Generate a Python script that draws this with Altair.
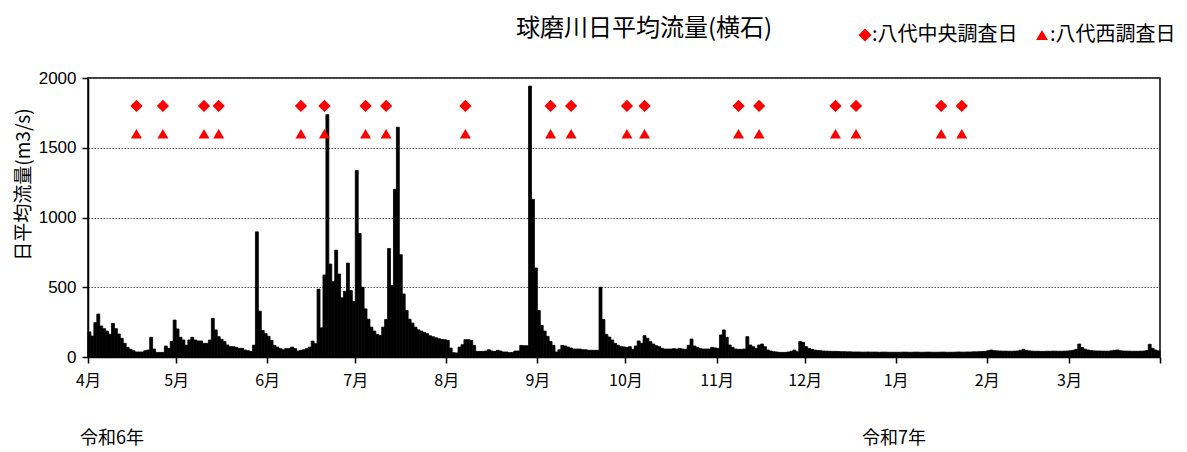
import altair as alt
import pandas as pd

# Daily mean discharge (m3/s), Yokoishi, R6.4.1 - R7.3.31
apr = [180, 150, 246, 308, 222, 203, 186, 163, 241, 203, 165, 134, 98, 69, 55,
       45, 36, 36, 36, 45, 50, 141, 57, 33, 33, 33, 79, 62, 112, 265]
may = [201, 141, 122, 84, 122, 141, 122, 115, 115, 98, 98, 122, 277, 194, 146,
       127, 110, 86, 74, 74, 69, 62, 62, 50, 45, 40, 85, 897, 328, 190, 167]
jun = [148, 119, 83, 71, 60, 52, 60, 60, 71, 60, 43, 48, 52, 60, 71,
       114, 95, 486, 209, 588, 1737, 666, 540, 766, 595, 424, 471, 673, 476, 397]
jul = [1337, 885, 500, 345, 271, 214, 186, 162, 155, 214, 269, 778, 512, 1202, 1647,
       733, 452, 333, 271, 243, 214, 195, 186, 176, 167, 152, 145, 138, 131, 126, 124]
aug = [119, 64, 31, 29, 71, 88, 124, 124, 119, 83, 40, 40, 40, 43, 52,
       43, 40, 48, 43, 36, 36, 31, 33, 43, 43, 83, 81, 81, 1942, 1130, 638]
sep = [333, 226, 186, 148, 112, 83, 36, 52, 83, 79, 71, 64, 57, 57, 57,
       52, 52, 48, 48, 48, 48, 500, 269, 162, 143, 122, 98, 84, 74, 72]
oct_ = [69, 74, 55, 79, 115, 98, 153, 134, 110, 93, 81, 74, 62, 57, 57,
        57, 60, 57, 62, 57, 55, 84, 129, 79, 69, 60, 57, 57, 57, 69, 65]
nov = [62, 158, 194, 141, 86, 69, 57, 55, 55, 57, 146, 86, 74, 62, 86,
       93, 74, 50, 43, 38, 36, 33, 33, 33, 36, 41, 50, 38, 110, 105]
dec = [74, 62, 55, 50, 47, 45, 43, 42, 41, 40, 40, 39, 38, 38, 37,
       37, 36, 36, 36, 35, 35, 36, 35, 35, 35, 34, 35, 35, 34, 34, 34]
jan = [34, 34, 35, 35, 34, 34, 35, 35, 34, 34, 35, 35, 34, 34, 34,
       35, 35, 34, 34, 34, 35, 36, 35, 35, 36, 36, 37, 37, 38, 39, 40]
feb = [45, 50, 46, 44, 43, 42, 42, 41, 41, 42, 43, 48, 55, 47, 44,
       42, 41, 41, 40, 40, 41, 41, 42, 42, 41, 41, 42, 43]
mar = [45, 48, 55, 93, 68, 56, 50, 46, 44, 43, 43, 42, 42, 42, 44,
       48, 50, 45, 43, 42, 42, 41, 41, 41, 42, 43, 46, 91, 62, 50, 44]

start_date = "2024-04-01"
month_starts = [0, 30, 61, 91, 122, 153, 183, 214, 244, 275, 306, 334, 365]
month_labels = ["4月", "5月", "6月", "7月", "8月", "9月", "10月", "11月", "12月",
                "1月", "2月", "3月", ""]
y_ticks = [0, 500, 1000, 1500, 2000]

chuo_dates = ["2024-04-17", "2024-04-26", "2024-05-10", "2024-05-15", "2024-06-12",
              "2024-06-20", "2024-07-04", "2024-07-11", "2024-08-07", "2024-09-05",
              "2024-09-12", "2024-10-01", "2024-10-07", "2024-11-08", "2024-11-15",
              "2024-12-11", "2024-12-18", "2025-01-16", "2025-01-23"]
nishi_dates = list(chuo_dates)
chuo_level = 1800
nishi_level = 1600

title_text = "球磨川日平均流量(横石)"
legend_chuo = ":八代中央調査日"
legend_nishi = ":八代西調査日"
era_labels = ["令和6年", "令和7年"]

flow = apr + may + jun + jul + aug + sep + oct_ + nov + dec + jan + feb + mar
df = pd.DataFrame({"d": list(range(len(flow))), "q": flow})
df["d2"] = df["d"] + 1

t0 = pd.Timestamp(start_date)
chuo = pd.DataFrame({"x": [(pd.Timestamp(s) - t0).days + 0.5 for s in chuo_dates]})
chuo["y"] = chuo_level
nishi = pd.DataFrame({"x": [(pd.Timestamp(s) - t0).days + 0.5 for s in nishi_dates]})
nishi["y"] = nishi_level

JP = "Noto Sans CJK JP"
W, H = 1072, 279

label_expr = "[" + ",".join("'%s'" % m for m in month_labels) + "][indexof([" + \
    ",".join(str(v) for v in month_starts) + "], datum.value)]"

xscale = alt.Scale(domain=[0, 365], nice=False, zero=False)
yscale = alt.Scale(domain=[0, 2000], nice=False)

bars = alt.Chart(df).mark_bar(color="black", stroke="black", strokeWidth=0.8).encode(
    x=alt.X("d:Q", scale=xscale,
            axis=alt.Axis(values=month_starts, labelExpr=label_expr, title=None,
                          grid=False, tickSize=6, tickColor="black", domainColor="black",
                          domainWidth=1.5, tickWidth=1.5, labelFont=JP, labelFontSize=16,
                          labelColor="black", labelPadding=9, labelAlign="center",
                          labelBound=False, labelOverlap=False)),
    x2="d2:Q",
    y=alt.Y("q:Q", scale=yscale,
            axis=alt.Axis(values=y_ticks, format="d", title="日平均流量(m3/s)",
                          grid=True, gridColor="#555", gridDash=[1.5, 1.5], gridWidth=1,
                          tickSize=6, tickColor="black", tickWidth=1.5,
                          domainColor="black", domainWidth=1.5,
                          labelFont="Liberation Sans", labelFontSize=17,
                          labelColor="black", labelPadding=6,
                          titleFont=JP, titleFontSize=19, titleFontWeight="normal",
                          titleColor="black", titleAngle=-90, titleX=-65, titleY=106,
                          titleAlign="center", titleBaseline="middle")),
    y2=alt.datum(0),
)

diam = alt.Chart(chuo).mark_point(shape="diamond", filled=True, color="#FF0000",
                                  size=150, opacity=1).encode(
    x=alt.X("x:Q", scale=xscale), y=alt.Y("y:Q", scale=yscale))
tri = alt.Chart(nishi).mark_point(shape="triangle-up", filled=True, color="#FF0000",
                                  size=120, opacity=1).encode(
    x=alt.X("x:Q", scale=xscale), y=alt.Y("y:Q", scale=yscale))

one = pd.DataFrame({"k": [0]})

title = alt.Chart(pd.DataFrame({"t": [title_text]})).mark_text(
    font=JP, fontSize=24, align="center", baseline="alphabetic", color="black").encode(
    text="t:N", x=alt.value(556), y=alt.value(-41.8))

leg_d = alt.Chart(one).mark_point(shape="diamond", filled=True, color="#FF0000",
                                  size=170, opacity=1).encode(
    x=alt.value(777), y=alt.value(-43))
leg_t = alt.Chart(one).mark_point(shape="triangle-up", filled=True, color="#FF0000",
                                  size=140, opacity=1).encode(
    x=alt.value(954), y=alt.value(-43))
leg_txt1 = alt.Chart(pd.DataFrame({"t": [legend_chuo]})).mark_text(
    font=JP, fontSize=20, align="left", baseline="middle", color="black").encode(
    text="t:N", x=alt.value(784), y=alt.value(-43))
leg_txt2 = alt.Chart(pd.DataFrame({"t": [legend_nishi]})).mark_text(
    font=JP, fontSize=20, align="left", baseline="middle", color="black").encode(
    text="t:N", x=alt.value(962), y=alt.value(-43))

era1 = alt.Chart(pd.DataFrame({"t": [era_labels[0]]})).mark_text(
    font=JP, fontSize=18, align="left", baseline="middle", color="black").encode(
    text="t:N", x=alt.value(-8), y=alt.value(360.5))
era2 = alt.Chart(pd.DataFrame({"t": [era_labels[1]]})).mark_text(
    font=JP, fontSize=18, align="left", baseline="middle", color="black").encode(
    text="t:N", x=alt.value(774), y=alt.value(360.5))

chart = alt.layer(bars, diam, tri, title, leg_d, leg_t, leg_txt1, leg_txt2,
                  era1, era2).properties(
    width=W, height=H,
    autosize=alt.AutoSizeParams(type="none"),
    padding={"left": 80, "top": 70, "right": 19, "bottom": 95},
).configure_view(stroke="black", strokeWidth=1.5)

chart.save("out.html", embed_options={"renderer": "svg", "actions": False})
